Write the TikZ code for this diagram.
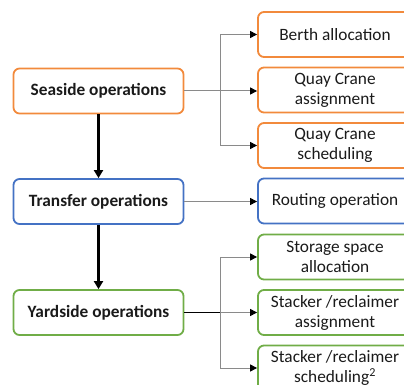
\documentclass[tikz,border=0pt]{standalone}
\usepackage{fontspec}
\setmainfont{Carlito}
\usetikzlibrary{arrows.meta}
\definecolor{orng}{HTML}{F28A3C}
\definecolor{blu}{HTML}{4472C4}
\definecolor{grn}{HTML}{70AD47}
\definecolor{lgrey}{HTML}{8A8A8A}
\definecolor{txt}{HTML}{1A1A1A}
\tikzset{
  mainbox/.style={draw, line width=1.8pt, rounded corners=6pt, minimum width=170pt, minimum height=45pt, font=\fontsize{17.3}{20}\selectfont\bfseries, text=txt, align=center, inner sep=0pt},
  subbox/.style={draw, line width=1.8pt, rounded corners=6pt, minimum width=154pt, minimum height=45pt, font=\fontsize{17.3}{20}\selectfont, text=txt, align=center, inner sep=0pt},
  branch/.style={draw=lgrey, line width=1pt, -{Triangle[length=7pt,width=7pt,color=black]}},
  feed/.style={draw=lgrey, line width=1pt},
  down/.style={draw=black, line width=2.4pt, -{Triangle[length=8pt,width=9pt]}}
}
\begin{document}
\begin{tikzpicture}[x=1pt,y=-1pt]
\useasboundingbox (0,0) rectangle (404,385);
\clip (0,0) rectangle (404,385);
% main boxes
\node[mainbox, draw=orng] (sea) at (98.5,91) {Seaside operations};
\node[mainbox, draw=blu] (tra) at (98.5,201.5) {Transfer operations};
\node[mainbox, draw=grn] (yar) at (98.5,312.5) {Yardside operations};
% sub boxes
\node[subbox, draw=orng] (berth) at (335,34.5) {Berth allocation};
\node[subbox, draw=orng] (qca) at (335,90) {Quay Crane\\assignment};
\node[subbox, draw=orng] (qcs) at (335,145.5) {Quay Crane\\scheduling};
\node[subbox, draw=blu] (rout) at (335,201) {Routing operation};
\node[subbox, draw=grn] (ssa) at (335,257) {Storage space\\allocation};
\node[subbox, draw=grn] (sra) at (335,312.5) {Stacker /reclaimer\\assignment};
\node[subbox, draw=grn] (srs) at (335,368) {Stacker /reclaimer\\scheduling\textsuperscript{2}};
% trunks
\coordinate (st) at (220.5,91);
\coordinate (yt) at (220.5,312.5);
\draw[feed] (sea.east) -- (st);
\draw[branch] (st) |- (berth.west);
\draw[branch] (st) -- (qca.west |- st);
\draw[branch] (st) |- (qcs.west);
\draw[branch] (tra.east) -- (rout.west |- tra.east);
\draw[draw=black, line width=1pt] (yar.east) -- (yt);
\draw[branch] (yt) |- (ssa.west);
\draw[branch] (yt) -- (sra.west);
\draw[branch] (yt) |- (srs.west);
% vertical arrows
\draw[down] (sea.south) -- (tra.north);
\draw[down] (tra.south) -- (yar.north);
\end{tikzpicture}
\end{document}
